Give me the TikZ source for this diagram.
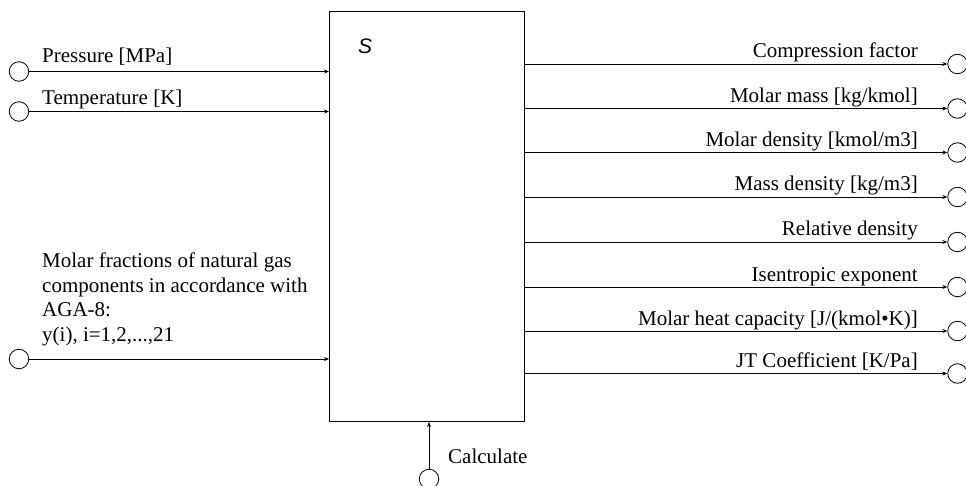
\documentclass[tikz,border=0pt]{standalone}
\usepackage{fontspec}
\setmainfont{Liberation Serif}
\newfontfamily\sansfam{Liberation Sans}
\usetikzlibrary{arrows.meta}
\begin{document}
\begin{tikzpicture}[x=1pt,y=-1pt,
  every node/.style={font=\fontsize{21}{24.5}\selectfont},
  port/.style={draw, circle, minimum size=19.5pt, inner sep=0pt, line width=0.8pt},
  sig/.style={line width=0.9pt, -{Stealth[length=5pt,width=4pt]}},
  lbl/.style={inner sep=0pt}
]
\useasboundingbox (0,0) rectangle (966,486);
% main block
\node[draw, line width=1pt, inner sep=0pt, minimum width=195pt, minimum height=410pt, anchor=north west] (S) at (329,11) {};
\node[lbl, font=\fontsize{21}{24}\sansfam\itshape] (Slbl) at (365,46) {S};

% inputs
\node[port] (i1) at (19,71.5) {};
\node[port] (i2) at (19,111.5) {};
\node[port] (i3) at (19,359) {};
\draw[sig] (i1.east) -- (i1.east -| S.west);
\draw[sig] (i2.east) -- (i2.east -| S.west);
\draw[sig] (i3.east) -- (i3.east -| S.west);
\node[lbl, anchor=base west] (l1) at (42,63) {Pressure [MPa]};
\node[lbl, anchor=base west] (l2) at (42,105) {Temperature [K]};
\node[lbl, anchor=base west, align=left] (l3) at (42,341) {Molar fractions of natural gas\\components in accordance with\\AGA-8:\\y(i), i=1,2,...,21};

% outputs
\foreach \n/\y/\t in {1/64/{Compression factor},
                      2/108.5/{Molar mass [kg/kmol]},
                      3/152.5/{Molar density [kmol/m3]},
                      4/197/{Mass density [kg/m3]},
                      5/242/{Relative density},
                      6/287/{Isentropic exponent},
                      7/331/{Molar heat capacity [J/(kmol•K)]},
                      8/373.5/{JT Coefficient [K/Pa]}}{
  \node[port] (o\n) at (957.5,\y) {};
  \draw[sig] (S.east |- o\n) -- (o\n.west);
  \node[lbl, anchor=base east] (ol\n) at (918,\y-6) {\t};
}

% calculate
\node[port] (c) at (429,479) {};
\draw[sig] (c.north) -- (c.north |- S.south);
\node[lbl, anchor=base west] (cl) at (448,463) {Calculate};
\end{tikzpicture}
\end{document}
